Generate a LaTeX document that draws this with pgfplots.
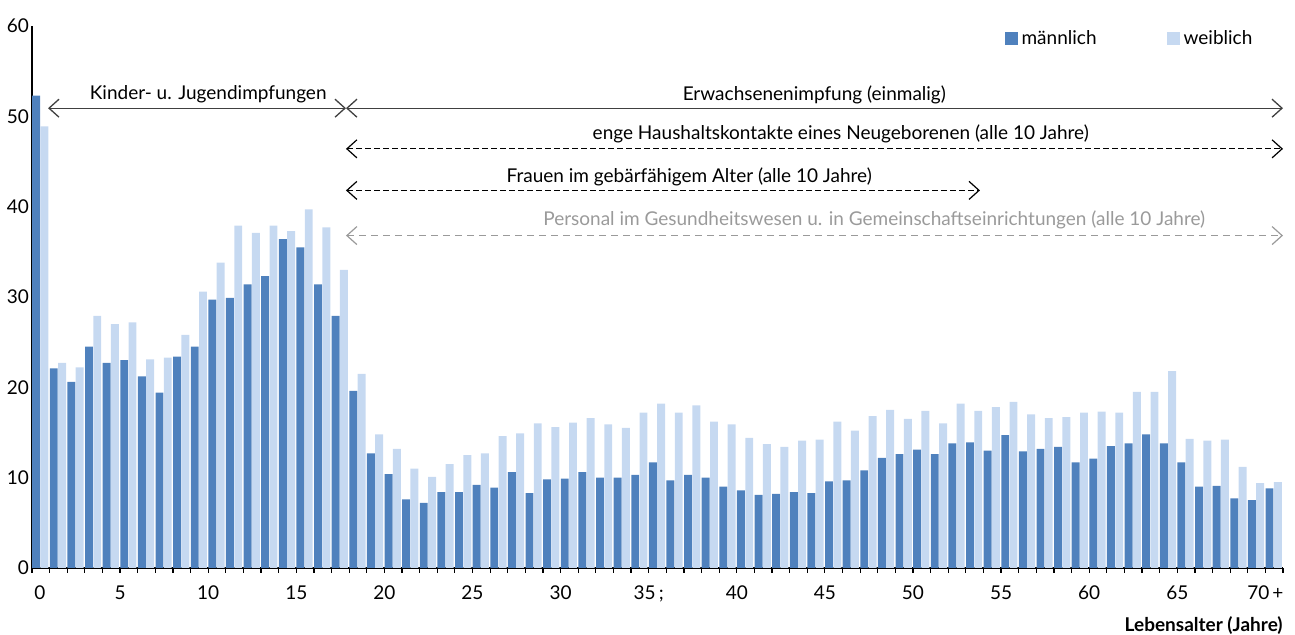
\documentclass[border=0pt]{standalone}
\usepackage{fontspec}
\setmainfont{Lato}
\usepackage{pgfplots}
\pgfplotsset{compat=1.18}
\usepackage{pgfplotstable}
\usetikzlibrary{arrows.meta}
\definecolor{mblue}{HTML}{4F81BD}
\definecolor{wblue}{HTML}{C6D9F1}
\definecolor{arrgray}{HTML}{404040}
\definecolor{lgray}{HTML}{9A9A9A}

\pgfplotstableread{
age m w
0 52.3 48.9
1 22.1 22.7
2 20.6 22.2
3 24.5 27.9
4 22.7 27.0
5 23.0 27.2
6 21.2 23.1
7 19.4 23.3
8 23.4 25.8
9 24.5 30.6
10 29.7 33.8
11 29.9 37.9
12 31.4 37.1
13 32.3 37.9
14 36.4 37.3
15 35.5 39.7
16 31.4 37.7
17 27.9 33.0
18 19.6 21.5
19 12.7 14.8
20 10.4 13.2
21 7.6 11.0
22 7.2 10.1
23 8.4 11.5
24 8.4 12.5
25 9.2 12.7
26 8.9 14.6
27 10.6 14.9
28 8.3 16.0
29 9.8 15.6
30 9.9 16.1
31 10.6 16.6
32 10.0 15.9
33 10.0 15.5
34 10.3 17.2
35 11.7 18.2
36 9.7 17.2
37 10.3 18.0
38 10.0 16.2
39 9.0 15.9
40 8.6 14.4
41 8.1 13.7
42 8.2 13.4
43 8.4 14.1
44 8.3 14.2
45 9.6 16.2
46 9.7 15.2
47 10.8 16.8
48 12.2 17.5
49 12.6 16.5
50 13.1 17.4
51 12.6 16.0
52 13.8 18.2
53 13.9 17.4
54 13.0 17.8
55 14.7 18.4
56 12.9 17.0
57 13.2 16.6
58 13.4 16.7
59 11.7 17.2
60 12.1 17.3
61 13.5 17.2
62 13.8 19.5
63 14.8 19.5
64 13.8 21.8
65 11.7 14.3
66 9.0 14.1
67 9.1 14.2
68 7.7 11.2
69 7.5 9.4
70 8.8 9.5
}\data

\tikzset{
  barb/.tip={Straight Barb[length=5pt,width=9pt]},
}

\begin{document}
\begin{tikzpicture}[font=\fontsize{9.5}{11.5}\selectfont]
\begin{axis}[
  scale only axis, width=625.5pt, height=271pt,
  xmin=0, xmax=71, ymin=0, ymax=60,
  clip=false,
  axis lines*=left,
  axis line style={line width=0.7pt, black},
  /pgf/number format/assume math mode=true,
  ytick={0,10,...,60},
  yticklabel style={xshift=2pt},
  major tick length=0pt,
  xtick={0.45,5,10,...,70},
  xticklabels={0,5,10,15,20,25,30,{35\,;},40,45,50,55,60,65,{70\,+}},
  xticklabel style={yshift=-5.5pt},
  minor xtick={0,1,...,71},
  minor tick length=2.5pt,
  tick align=outside,
  minor tick style={black, line width=0.6pt},
  xlabel={\bfseries Lebensalter (Jahre)},
  xlabel style={at={(rel axis cs:1,0)}, anchor=base east, yshift=-32pt, inner sep=0pt},
  legend style={at={(rel axis cs:0.979,1.0)}, anchor=north east, draw=none, fill=none,
    inner sep=0pt, legend columns=2, font=\fontsize{9.5}{11.5}\selectfont,
    /tikz/every even column/.append style={column sep=33pt}},
  legend cell align=left,
]
\addplot[ybar, bar width=0.45, bar shift=0pt, fill=mblue, draw=none,
  legend image code/.code={\fill[mblue] (0pt,-3pt) rectangle (6.5pt,3.5pt);}]
  table[x expr=\thisrow{age}+0.235, y=m]{\data};
\addlegendentry{männlich}
\addplot[ybar, bar width=0.45, bar shift=0pt, fill=wblue, draw=none,
  legend image code/.code={\fill[wblue] (0pt,-3pt) rectangle (6.5pt,3.5pt);}]
  table[x expr=\thisrow{age}+0.705, y=w]{\data};
\addlegendentry{weiblich}

% annotation arrows
\draw[arrgray, line width=0.65pt, barb-barb] (axis cs:0.91,50.9) -- (axis cs:17.82,50.9);
\draw[arrgray, line width=0.65pt, barb-barb] (axis cs:17.82,50.9) -- (axis cs:71,50.9);
\draw[black, line width=0.6pt, dash pattern=on 3pt off 1.5pt, barb-barb] (axis cs:17.82,46.4) -- (axis cs:71,46.4);
\draw[black, line width=0.6pt, dash pattern=on 3pt off 1.5pt, barb-barb] (axis cs:17.82,41.8) -- (axis cs:53.8,41.8);
\draw[lgray, line width=0.6pt, dash pattern=on 3.5pt off 2.5pt, barb-barb] (axis cs:17.82,36.8) -- (axis cs:71,36.8);

\node at (axis cs:10.0,52.5) {Kinder- u. Jugendimpfungen};
\node at (axis cs:44.4,52.4) {Erwachsenenimpfung (einmalig)};
\node at (axis cs:45.9,48.1) {enge Haushaltskontakte eines Neugeborenen (alle 10 Jahre)};
\node at (axis cs:37.3,43.3) {Frauen im gebärfähigem Alter (alle 10 Jahre)};
\node[text=lgray] at (axis cs:47.8,38.5) {Personal im Gesundheitswesen u. in Gemeinschaftseinrichtungen (alle 10 Jahre)};
\end{axis}
\pgfresetboundingbox
\path (-16pt,-33.5pt) rectangle (631.5pt,284pt);
\end{tikzpicture}
\end{document}
